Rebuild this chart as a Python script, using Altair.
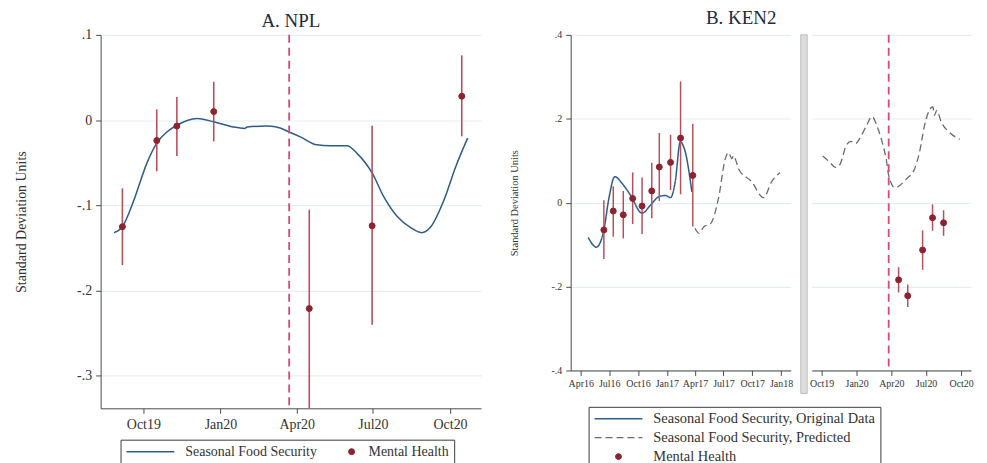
import altair as alt
import pandas as pd

FONT = "Liberation Serif"
BLUE = "#2E5C88"
RED = "#8C2430"
BAR = "#B5515C"
EVENT = "#D94A72"
GRAY = "#6A6A6A"
GRID = "#E4EDF0"
AXIS = "#4A4A4A"
TXT = "#333333"
TITLE = "#1E2B3A"

# ---------------- Panel A: NPL ----------------
a_series = ["Seasonal Food Security", "Mental Health"]
a_line_dates = ["2019-08-27", "2019-09-06", "2019-09-20", "2019-10-05", "2019-10-17",
                "2019-10-29", "2019-11-10", "2019-12-04", "2019-12-24", "2020-01-16",
                "2020-01-30", "2020-02-02", "2020-02-25", "2020-03-08", "2020-03-23",
                "2020-04-06", "2020-04-25", "2020-05-11", "2020-05-31", "2020-06-12",
                "2020-06-30", "2020-07-14", "2020-07-30", "2020-08-15", "2020-08-28",
                "2020-09-08", "2020-09-24", "2020-10-08", "2020-10-22"]
a_line_vals = [-0.132, -0.125, -0.093, -0.051, -0.027,
               -0.014, -0.006, 0.002, -0.002, -0.008,
               -0.0097, -0.008, -0.007, -0.008, -0.014,
               -0.020, -0.029, -0.030, -0.030, -0.039,
               -0.062, -0.090, -0.113, -0.126, -0.132,
               -0.125, -0.093, -0.054, -0.021]
a_mh_dates = ["2019-09-06", "2019-10-17", "2019-11-10", "2019-12-24",
              "2020-04-16", "2020-06-30", "2020-10-15"]
a_mh_vals = [-0.125, -0.024, -0.007, 0.010, -0.221, -0.124, 0.028]
a_mh_lo = [-0.170, -0.060, -0.042, -0.025, -0.338, -0.240, -0.019]
a_mh_hi = [-0.080, 0.0125, 0.027, 0.045, -0.105, -0.0066, 0.076]
a_event = ["2020-03-23"]
a_xdomain = ["2019-08-11", "2020-11-07"]
a_xticks = ["2019-10-01", "2020-01-01", "2020-04-01", "2020-07-01", "2020-10-01"]
a_ydomain = [-0.338, 0.1]
a_yticks = [-0.3, -0.2, -0.1, 0, 0.1]

# ---------------- Panel B: KEN2 ----------------
b_series = ["Seasonal Food Security, Original Data",
            "Seasonal Food Security, Predicted", "Mental Health"]
bl_orig_dates = ["2016-04-25", "2016-05-21", "2016-06-14", "2016-06-30", "2016-07-19",
                 "2016-08-11", "2016-09-07", "2016-10-14", "2016-11-10", "2016-12-06",
                 "2016-12-28", "2017-01-13", "2017-01-28", "2017-02-13", "2017-03-01",
                 "2017-03-22"]
bl_orig_vals = [-0.083, -0.106, -0.065, 0.010, 0.062,
                0.046, 0.018, -0.025, -0.006, 0.014,
                0.017, 0.012, 0.050, 0.145, 0.121,
                0.026]
bl_pred_dates = ["2017-04-01", "2017-04-14", "2017-04-30", "2017-05-20", "2017-06-15",
                 "2017-07-07", "2017-07-17", "2017-07-28", "2017-08-02", "2017-08-12",
                 "2017-08-18", "2017-09-29", "2017-11-06", "2017-12-02", "2017-12-29"]
bl_pred_vals = [-0.061, -0.073, -0.057, -0.051, 0.010,
                0.105, 0.119, 0.105, 0.112, 0.095,
                0.081, 0.050, 0.012, 0.050, 0.072]
bl_mh_dates = ["2016-06-14", "2016-07-14", "2016-08-15", "2016-09-14", "2016-10-14",
               "2016-11-14", "2016-12-08", "2017-01-13", "2017-02-14", "2017-03-25"]
bl_mh_vals = [-0.065, -0.020, -0.029, 0.010, -0.008, 0.028, 0.085, 0.096, 0.154, 0.065]
bl_mh_lo = [-0.134, -0.081, -0.085, -0.051, -0.075, -0.037, 0.004, 0.030, 0.020, -0.057]
bl_mh_hi = [0.006, 0.039, 0.028, 0.072, 0.060, 0.095, 0.166, 0.162, 0.289, 0.188]
bl_xdomain = ["2016-02-29", "2018-02-01"]
bl_xticks = ["2016-04-01", "2016-07-01", "2016-10-01", "2017-01-01",
             "2017-04-01", "2017-07-01", "2017-10-01", "2018-01-01"]

br_pred_dates = ["2019-10-04", "2019-10-23", "2019-11-06", "2019-11-18", "2019-12-05",
                 "2019-12-17", "2019-12-29", "2020-01-09", "2020-01-27", "2020-02-10",
                 "2020-02-26", "2020-03-10", "2020-03-19", "2020-03-25", "2020-04-10",
                 "2020-04-18", "2020-05-10", "2020-06-01", "2020-06-14", "2020-06-27",
                 "2020-07-13", "2020-07-19", "2020-07-23", "2020-07-29", "2020-08-10",
                 "2020-08-31", "2020-09-27"]
br_pred_vals = [0.111, 0.096, 0.084, 0.091, 0.137,
                0.146, 0.141, 0.153, 0.184, 0.205,
                0.176, 0.137, 0.101, 0.065, 0.036,
                0.038, 0.056, 0.081, 0.121, 0.184,
                0.225, 0.228, 0.208, 0.220, 0.192,
                0.168, 0.151]
br_mh_dates = ["2020-04-20", "2020-05-14", "2020-06-22", "2020-07-18", "2020-08-16"]
br_mh_vals = [-0.184, -0.222, -0.113, -0.036, -0.048]
br_mh_lo = [-0.214, -0.249, -0.160, -0.067, -0.079]
br_mh_hi = [-0.154, -0.195, -0.066, -0.004, -0.018]
br_event = ["2020-03-25"]
br_xdomain = ["2019-09-05", "2020-10-27"]
br_xticks = ["2019-10-01", "2020-01-01", "2020-04-01", "2020-07-01", "2020-10-01"]
b_ydomain = [-0.4, 0.4]
b_yticks = [-0.4, -0.2, 0, 0.2, 0.4]
break_span = [0.4, -0.455]


def dt(s):
    y, m, d = (int(v) for v in s.split("-"))
    return alt.DateTime(year=y, month=m, date=d, utc=True)


YLABEL = ("datum.value == 0 ? '0' : (datum.value < 0 ? '-' : '') + '.' + "
          "format(abs(datum.value) * 10, '.0f')")
XLABEL = "utcFormat(datum.value, '%b%y')"


def xenc(domain, ticks, fs, pad):
    return alt.X("date:T", title=None,
                 scale=alt.Scale(type="utc", domain=[dt(d) for d in domain]),
                 axis=alt.Axis(values=[dt(t) for t in ticks], labelExpr=XLABEL,
                               grid=False, labelFont=FONT, labelFontSize=fs, labelColor=TXT,
                               labelPadding=pad, tickSize=5, tickColor=AXIS, domainColor=AXIS,
                               labelFlush=False, labelOverlap=False))


def yaxis_full(ticks, fs, tfs, tpad):
    return alt.Axis(values=ticks, labelExpr=YLABEL, title="Standard Deviation Units",
                    titleFont=FONT, titleFontSize=tfs, titleFontWeight="normal", titleColor=TXT,
                    titlePadding=tpad, labelFont=FONT, labelFontSize=fs, labelColor=TXT,
                    labelPadding=4, tickSize=5, tickColor=AXIS, domainColor=AXIS,
                    grid=True, gridColor=GRID, gridWidth=1.2, labelFlush=False)


def yaxis_grid(ticks):
    return alt.Axis(values=ticks, title=None, labels=False, ticks=False, domain=False,
                    grid=True, gridColor=GRID, gridWidth=1.2)


def channels(series, legend, colors, shapes, sizes, widths, dashes):
    col = alt.Color("series:N", scale=alt.Scale(domain=series, range=colors), legend=legend)
    shp = alt.Shape("series:N", scale=alt.Scale(domain=series, range=shapes), legend=legend)
    siz = alt.Size("series:N", scale=alt.Scale(type="ordinal", domain=series, range=sizes),
                   legend=legend)
    swd = alt.StrokeWidth("series:N", scale=alt.Scale(type="ordinal", domain=series, range=widths),
                          legend=legend)
    dsh = alt.StrokeDash("series:N", scale=alt.Scale(domain=series, range=dashes), legend=legend)
    return col, shp, siz, swd, dsh


# ---------------- build A ----------------
dfA_line = pd.DataFrame({"date": a_line_dates, "val": a_line_vals, "series": a_series[0]})
dfA_mh = pd.DataFrame({"date": a_mh_dates, "val": a_mh_vals, "lo": a_mh_lo,
                       "hi": a_mh_hi, "series": a_series[1]})
dfA_ev = pd.DataFrame({"date": a_event})

legA = alt.Legend(title=None, orient="none", legendX=20, legendY=406.5, direction="horizontal",
                  strokeColor="#3A3A3A", fillColor="white", padding=5,
                  labelFont=FONT, labelFontSize=14, labelColor=TXT, labelOffset=10,
                  labelLimit=400, columnPadding=27, clipHeight=14,
                  labelExpr="datum.label + '\u2002'")
colA, shpA, sizA, swA, dshA = channels(a_series, legA, [BLUE, RED], ["stroke", "circle"],
                                       [2304, 36], [1.5, 1], [[1, 0], [1, 0]])
xA = xenc(a_xdomain, a_xticks, 14, 4)
yscA = alt.Scale(domain=a_ydomain, nice=False, zero=False)
yaxA = yaxis_full(a_yticks, 14, 14, 48)

A_line = alt.Chart(dfA_line).mark_line(interpolate="monotone").encode(
    x=xA, y=alt.Y("val:Q", scale=yscA, axis=yaxA), color=colA, strokeWidth=swA)
A_ev = alt.Chart(dfA_ev).mark_rule(color=EVENT, strokeWidth=1.8, strokeDash=[8, 5]).encode(x=xA)
A_err = alt.Chart(dfA_mh).mark_rule(color=BAR, strokeWidth=1.6).encode(
    x=xA, y=alt.Y("lo:Q", scale=yscA, axis=yaxA), y2="hi:Q")
A_pt = alt.Chart(dfA_mh).mark_point(filled=False, fill=RED, opacity=1).encode(
    x=xA, y=alt.Y("val:Q", scale=yscA, axis=yaxA), color=colA, shape=shpA, size=sizA,
    strokeWidth=swA)

chartA = alt.layer(A_line, A_ev, A_err, A_pt).properties(
    width=382, height=375,
    title=alt.TitleParams("A. NPL", font=FONT, fontSize=19, fontWeight="normal", color=TITLE,
                          offset=-3, anchor="middle", frame="group"))

# ---------------- build B ----------------
legB = alt.Legend(title=None, orient="none", legendX=18, legendY=373.5, direction="vertical",
                  strokeColor="#3A3A3A", fillColor="white", padding=5,
                  labelFont=FONT, labelFontSize=14.5, labelColor=TXT, labelOffset=10,
                  labelLimit=500, rowPadding=4, clipHeight=14,
                  labelExpr="datum.label + '\u2002\u2002\u2002\u2002\u2002'")
colB, shpB, sizB, swB, dshB = channels(b_series, legB, [BLUE, GRAY, RED],
                                       ["stroke", "stroke", "circle"], [2304, 2304, 36],
                                       [1.5, 1.3, 1], [[1, 0], [7, 4], [1, 0]])
yscB = alt.Scale(domain=b_ydomain, nice=False, zero=False)
yaxB = yaxis_full(b_yticks, 10, 10.5, 32)
yaxB_r = yaxis_grid(b_yticks)

dfBL_o = pd.DataFrame({"date": bl_orig_dates, "val": bl_orig_vals, "series": b_series[0]})
dfBL_p = pd.DataFrame({"date": bl_pred_dates, "val": bl_pred_vals, "series": b_series[1]})
dfBL_m = pd.DataFrame({"date": bl_mh_dates, "val": bl_mh_vals, "lo": bl_mh_lo,
                       "hi": bl_mh_hi, "series": b_series[2]})
xBL = xenc(bl_xdomain, bl_xticks, 10, 3)

BL = alt.layer(
    alt.Chart(dfBL_p).mark_line(interpolate="monotone").encode(
        x=xBL, y=alt.Y("val:Q", scale=yscB, axis=yaxB), color=colB, strokeWidth=swB,
        strokeDash=dshB),
    alt.Chart(dfBL_o).mark_line(interpolate="monotone").encode(
        x=xBL, y=alt.Y("val:Q", scale=yscB, axis=yaxB), color=colB, strokeWidth=swB,
        strokeDash=dshB),
    alt.Chart(dfBL_m).mark_rule(color=BAR, strokeWidth=1.5).encode(
        x=xBL, y=alt.Y("lo:Q", scale=yscB, axis=yaxB), y2="hi:Q"),
    alt.Chart(dfBL_m).mark_point(filled=False, fill=RED, opacity=1).encode(
        x=xBL, y=alt.Y("val:Q", scale=yscB, axis=yaxB), color=colB, shape=shpB, size=sizB,
        strokeWidth=swB),
).properties(width=221, height=337)

dfBrk = pd.DataFrame({"top": [break_span[0]], "bottom": [break_span[1]]})
BRK = alt.Chart(dfBrk).mark_rect(fill="#DCDCDC", stroke="#B2B2B2", strokeWidth=0.8).encode(
    x=alt.value(4), x2=alt.value(10.5),
    y=alt.Y("top:Q", scale=yscB, axis=None), y2="bottom:Q").properties(width=9, height=337)

dfBR_p = pd.DataFrame({"date": br_pred_dates, "val": br_pred_vals, "series": b_series[1]})
dfBR_m = pd.DataFrame({"date": br_mh_dates, "val": br_mh_vals, "lo": br_mh_lo,
                       "hi": br_mh_hi, "series": b_series[2]})
dfBR_e = pd.DataFrame({"date": br_event})
xBR = xenc(br_xdomain, br_xticks, 10, 3)

BR = alt.layer(
    alt.Chart(dfBR_p).mark_line(interpolate="monotone").encode(
        x=xBR, y=alt.Y("val:Q", scale=yscB, axis=yaxB_r), color=colB, strokeWidth=swB,
        strokeDash=dshB),
    alt.Chart(dfBR_e).mark_rule(color=EVENT, strokeWidth=1.8, strokeDash=[8, 5]).encode(x=xBR),
    alt.Chart(dfBR_m).mark_rule(color=BAR, strokeWidth=1.5).encode(
        x=xBR, y=alt.Y("lo:Q", scale=yscB, axis=yaxB_r), y2="hi:Q"),
    alt.Chart(dfBR_m).mark_point(filled=False, fill=RED, opacity=1).encode(
        x=xBR, y=alt.Y("val:Q", scale=yscB, axis=yaxB_r), color=colB, shape=shpB, size=sizB,
        strokeWidth=swB),
).properties(width=160, height=337)

chartB = alt.hconcat(BL, BRK, BR, spacing=6, bounds="flush",
                     title=alt.TitleParams("B. KEN2", font=FONT, fontSize=19, fontWeight="normal",
                                           color=TITLE, offset=2, anchor="middle"))

chart = alt.hconcat(chartA, chartB, spacing=90, bounds="flush").resolve_scale(
    color="independent", shape="independent", size="independent",
    strokeWidth="independent", strokeDash="independent").properties(
    padding={"left": 6, "top": 0, "right": 5, "bottom": 5}
).configure(font=FONT).configure_view(strokeWidth=0)

chart.save("out.html", embed_options={"renderer": "svg", "actions": False})
